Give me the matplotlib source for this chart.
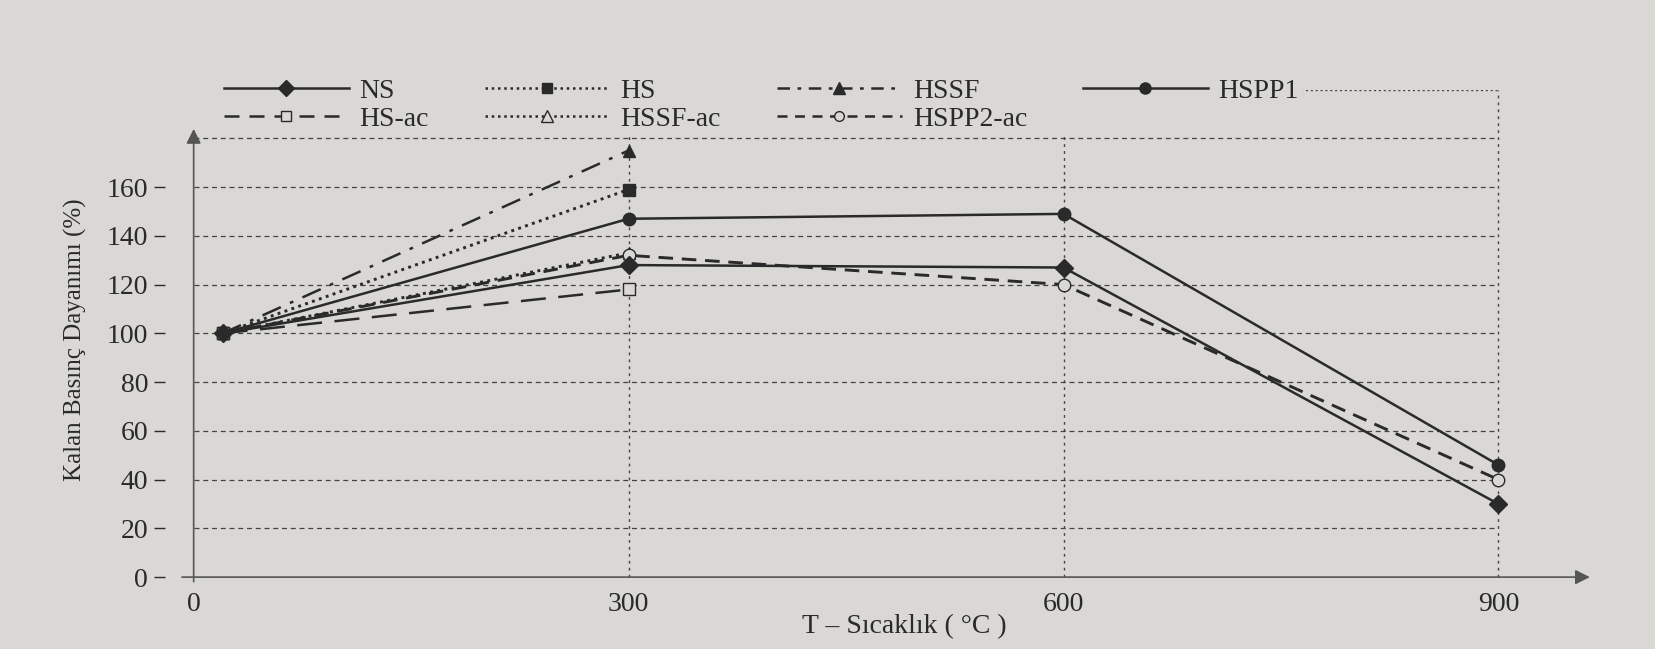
import numpy as np
import matplotlib.pyplot as plt
from matplotlib.lines import Line2D

# temperatures (degC) and residual compressive strength (%)
temps_full = [20, 300, 600, 900]
temps_short = [20, 300]

ns = [100, 128, 127, 30]
hspp1 = [100, 147, 149, 46]
hspp2_ac = [100, 132, 120, 40]
hs = [100, 159]
hssf = [100, 175]
hs_ac = [100, 118]
hssf_ac = [100, 133]

x_ticks = [0, 300, 600, 900]
y_ticks = [0, 20, 40, 60, 80, 100, 120, 140, 160]

bg = '#d9d8d5'
ink = '#2a2a2a'

plt.rcParams['font.family'] = ['Liberation Serif', 'DejaVu Serif']

fig = plt.figure(figsize=(16.55, 6.49), dpi=100, facecolor=bg)
ax = fig.add_axes([0.0995, 0.092, 0.8935, 0.77], facecolor=bg)
ax.set_xlim(-20, 1000)
ax.set_ylim(-5, 200)

# grid
for yv in range(20, 181, 20):
    ax.plot([0, 900], [yv, yv], ls=(0, (4, 3)), lw=0.9, color='#444444', zorder=1)
ax.plot([150, 900], [200, 200], ls=(0, (1.5, 2)), lw=1.0, color='#444444', zorder=1)
for xv in x_ticks[1:]:
    ax.plot([xv, xv], [0, 200], ls=(0, (2, 3)), lw=1.0, color='#444444', zorder=1)

# axes with arrows
ax.annotate('', xy=(965, 0), xytext=(-10, 0),
            arrowprops=dict(arrowstyle='-|>', color='#555555', lw=1.2, mutation_scale=22))
ax.annotate('', xy=(0, 185), xytext=(0, -3),
            arrowprops=dict(arrowstyle='-|>', color='#555555', lw=1.2, mutation_scale=22))

lw = 1.8
ms = 9
ax.plot(temps_short, hssf, ls=(0, (8, 4, 1.5, 4)), lw=lw, color=ink, marker='^', ms=ms, mfc=ink, mec=ink, zorder=3)
ax.plot(temps_short, hs, ls=(0, (1, 1.5)), lw=lw + 0.3, color=ink, marker='s', ms=ms - 1, mfc=ink, mec=ink, zorder=3)
ax.plot(temps_full, hspp1, ls='-', lw=lw, color=ink, marker='o', ms=ms, mfc=ink, mec=ink, zorder=3)
ax.plot(temps_short, hssf_ac, ls=(0, (1, 1.5)), lw=lw + 0.3, color=ink, marker='^', ms=ms, mfc=bg, mec=ink, zorder=3)
ax.plot(temps_full, hspp2_ac, ls=(0, (5, 3)), lw=lw + 0.3, color=ink, marker='o', ms=ms, mfc=bg, mec=ink, zorder=3)
ax.plot(temps_full, ns, ls='-', lw=lw, color=ink, marker='D', ms=ms, mfc=ink, mec=ink, zorder=4)
ax.plot(temps_short, hs_ac, ls=(0, (10, 5)), lw=lw, color=ink, marker='s', ms=ms - 1, mfc=bg, mec=ink, zorder=3)

for s in ax.spines.values():
    s.set_visible(False)
ax.set_xticks(x_ticks)
ax.set_yticks(y_ticks)
ax.tick_params(axis='x', length=0, labelsize=20, pad=2, colors=ink)
ax.tick_params(axis='y', length=8, width=1, labelsize=20, pad=4, colors=ink)
ax.set_xlabel('T – Sıcaklık ( °C )', fontsize=20, color=ink, labelpad=-2)
ax.set_ylabel('Kalan Basınç Dayanımı (%)', fontsize=18, color=ink, labelpad=14)

handles = [
    Line2D([], [], ls='-', lw=lw, color=ink, marker='D', ms=ms - 1, mfc=ink, mec=ink),
    Line2D([], [], ls=(0, (6, 4)), lw=lw, color=ink, marker='s', ms=ms - 2, mfc=bg, mec=ink),
    Line2D([], [], ls=(0, (1, 1.5)), lw=lw, color=ink, marker='s', ms=ms - 2, mfc=ink, mec=ink),
    Line2D([], [], ls=(0, (1, 1.5)), lw=lw, color=ink, marker='^', ms=ms - 1, mfc=bg, mec=ink),
    Line2D([], [], ls=(0, (5, 3, 1.5, 3)), lw=lw, color=ink, marker='^', ms=ms - 1, mfc=ink, mec=ink),
    Line2D([], [], ls=(0, (4, 3)), lw=lw, color=ink, marker='o', ms=ms - 2, mfc=bg, mec=ink),
    Line2D([], [], ls='-', lw=lw, color=ink, marker='o', ms=ms - 1, mfc=ink, mec=ink),
]
labels = ['NS', 'HS-ac', 'HS', 'HSSF-ac', 'HSSF', 'HSPP2-ac', 'HSPP1']
leg = fig.legend(handles, labels, ncol=4, loc='upper left', bbox_to_anchor=(0.125, 0.905),
                 fontsize=20, handlelength=4.5, columnspacing=2.0, labelspacing=0.1,
                 handletextpad=0.4, frameon=True, facecolor=bg, edgecolor=bg, framealpha=1,
                 borderpad=0.1)
for t in leg.get_texts():
    t.set_color(ink)

fig.savefig('out.png', dpi=100, facecolor=bg)
